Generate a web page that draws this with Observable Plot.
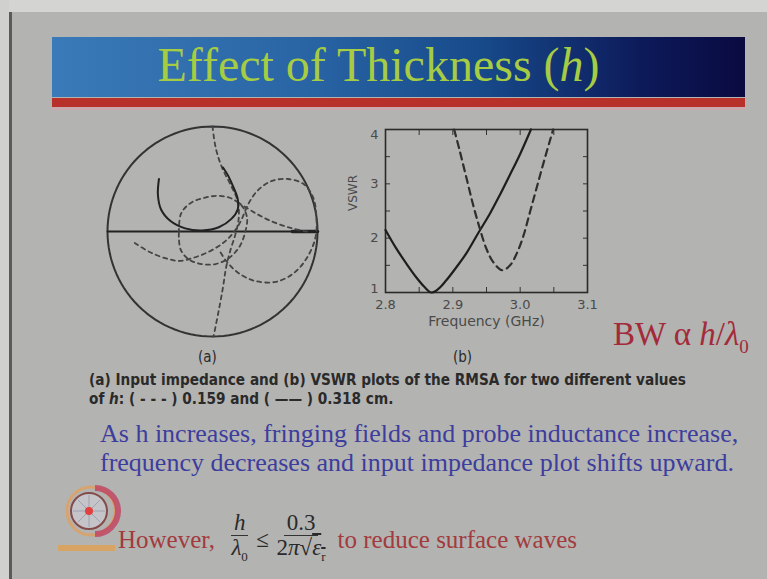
<!DOCTYPE html>
<html><head><meta charset="utf-8">
<script src="https://cdn.jsdelivr.net/npm/d3@7"></script>
<script src="https://cdn.jsdelivr.net/npm/@observablehq/plot@0.6"></script>
<style>
html,body{margin:0;padding:0;}
body{width:767px;height:579px;position:relative;overflow:hidden;background:#b3b3b1;font-family:"Liberation Serif",serif;}
.abs{position:absolute;}
#topband{left:0;top:0;width:767px;height:12px;background:#d4d4d2;}
#leftband{left:0;top:0;width:9px;height:579px;background:#d0d0ce;}
#leftline{left:9px;top:12px;width:3px;height:567px;background:#5a5a5a;}
#titlebar{left:52px;top:37px;width:693px;height:60px;background:linear-gradient(90deg,#3a7ab8 0%,#2a66a6 35%,#174a8a 62%,#0d1a5a 85%,#0a0a40 100%);}
#redbar{left:52px;top:98px;width:693px;height:9px;background:#b8302a;}
#pinkbar{left:52px;top:107px;width:693px;height:3px;background:#c9a9ad;}
#title{left:32px;top:35px;width:693px;height:60px;line-height:60px;text-align:center;color:#a6cc44;font-size:48px;}
.cap{font-family:"Liberation Sans Narrow","DejaVu Sans Condensed",sans-serif;color:#2a2a2a;font-weight:bold;font-size:15.2px;white-space:nowrap;}
.blue{color:#3d3d9e;font-size:26px;white-space:nowrap;}
.red{color:#a23a3e;white-space:nowrap;}
.frac{display:inline-flex;flex-direction:column;align-items:center;vertical-align:middle;}
.frac .n{border-bottom:1.5px solid #333;padding:0 3px;line-height:24px;}
.frac .d{line-height:24px;}
</style></head>
<body>
<div id="topband" class="abs"></div>
<div id="leftband" class="abs"></div>
<div id="leftline" class="abs"></div>
<div id="titlebar" class="abs"></div>
<div id="redbar" class="abs"></div>
<div id="pinkbar" class="abs"></div>
<div id="title" class="abs">Effect of Thickness (<i>h</i>)</div>

<div id="smith" class="abs" style="left:104px;top:123px;"></div>
<div id="vswr" class="abs" style="left:340px;top:121px;"></div>

<div class="abs cap" style="left:198px;top:348px;font-weight:normal;font-size:15px;">(a)</div>
<div class="abs cap" style="left:453px;top:348px;font-weight:normal;font-size:15px;">(b)</div>
<div class="abs red" style="left:613px;top:316px;font-size:33px;color:#a32a3a;">BW α <i>h</i>/<i>λ</i><sub style="font-size:19px">0</sub></div>

<div class="abs cap" style="left:89px;top:371px;">(a) Input impedance and (b) VSWR plots of the RMSA for two different values</div>
<div class="abs cap" style="left:89px;top:390px;">of <i>h</i>: ( - - - ) 0.159 and ( —— ) 0.318 cm.</div>

<div class="abs blue" style="left:100px;top:419px;">As h increases, fringing fields and probe inductance increase,</div>
<div class="abs blue" style="left:100px;top:448px;">frequency decreases and input impedance plot shifts upward.</div>

<svg class="abs" style="left:50px;top:480px;" width="72" height="74" viewBox="0 0 72 74">
  <circle cx="41" cy="31" r="24" fill="none" stroke="#e0a060" stroke-width="3" opacity="0.8"/>
  <path d="M45 8 A23 23 0 0 1 45 54" fill="none" stroke="#c04060" stroke-width="6" opacity="0.8"/>
  <circle cx="39" cy="31" r="18" fill="#c8c8cc" stroke="#804040" stroke-width="2" opacity="0.9"/>
  <path d="M39 15 L39 47 M23 31 L55 31 M28 20 L50 42 M50 20 L28 42" stroke="#a0a0b0" stroke-width="1"/>
  <circle cx="39" cy="31" r="4" fill="#e04040"/>
  <rect x="8" y="65" width="57" height="6" fill="#e0a050" opacity="0.8"/>
</svg>

<div class="abs" style="left:118px;top:511px;display:flex;align-items:center;white-space:nowrap;">
  <span class="red" style="font-size:25px;">However,</span>
  <span style="font-size:23px;color:#2a2a2a;margin-left:16px;">
    <span class="frac"><span class="n"><i>h</i></span><span class="d"><i>λ</i><sub style="font-size:13px">0</sub></span></span>
    <span style="vertical-align:middle;margin:0 2px;">≤</span>
    <span class="frac"><span class="n">0.3</span><span class="d">2<i>π</i>√<span style="text-decoration:overline"><i>ε</i><sub style="font-size:13px">r</sub></span></span></span>
  </span>
  <span class="red" style="font-size:25px;margin-left:12px;">to reduce surface waves</span>
</div>

<script>
// ---------- VSWR data (b) ----------
const freqSolid = [2.800, 2.815, 2.830, 2.845, 2.858, 2.868, 2.878, 2.890, 2.905, 2.920, 2.938, 2.955, 2.970, 2.985, 3.000, 3.016];
const vswrSolid = [2.15, 1.83, 1.55, 1.29, 1.10, 1.00, 1.06, 1.22, 1.46, 1.72, 2.10, 2.45, 2.80, 3.17, 3.55, 4.00];
const freqDashed = [2.902, 2.910, 2.920, 2.930, 2.940, 2.950, 2.960, 2.973, 2.985, 2.995, 3.005, 3.015, 3.025, 3.035, 3.049];
const vswrDashed = [4.00, 3.62, 3.12, 2.62, 2.18, 1.80, 1.56, 1.41, 1.50, 1.72, 2.05, 2.50, 2.95, 3.40, 4.00];
const freqTickLabels = [2.8, 2.9, 3.0, 3.1];
const freqMinorTicks = [2.85, 2.9, 2.95, 3.0, 3.05];
const vswrTickLabelsMid = [2, 3];
const vswrTickLabelTop = [4];
const vswrTickLabelBottom = [1];
const vswrMinorTicks = [1.5, 2, 2.5, 3, 3.5];

// ---------- Smith chart loci (a), reflection-coefficient plane (u, v) ----------
const smithSolidU = [-0.51,-0.52,-0.49,-0.40,-0.26,-0.10,0.06,0.18,0.24,0.24,0.20,0.15,0.10];
const smithSolidV = [0.50,0.35,0.21,0.10,0.03,0.01,0.04,0.12,0.21,0.31,0.42,0.53,0.61];
const smithDashAU = [0.00,0.03,0.09,0.18,0.24,0.25,0.22,0.17,0.13,0.10,0.06,0.01];
const smithDashAV = [1.00,0.80,0.61,0.43,0.29,0.13,-0.02,-0.18,-0.34,-0.53,-0.75,-1.00];
const smithDashBU = [-0.32,-0.30,-0.21,-0.08,0.06,0.19,0.29,0.33,0.31,0.26,0.16,0.03,-0.10,-0.22,-0.30,-0.32,-0.32];
const smithDashBV = [-0.01,0.17,0.27,0.32,0.34,0.31,0.23,0.12,-0.01,-0.14,-0.25,-0.31,-0.31,-0.27,-0.18,-0.07,-0.01];
const smithDashCU = [-0.74,-0.59,-0.43,-0.31,-0.18,-0.03,0.10,0.20,0.27,0.34,0.43,0.56,0.72,0.87,0.96,0.99,0.98,0.90,0.77,0.60,0.40,0.24,0.13,0.06];
const smithDashCV = [-0.11,-0.20,-0.26,-0.28,-0.25,-0.19,-0.11,-0.01,0.10,0.26,0.39,0.48,0.50,0.45,0.32,0.13,-0.06,-0.25,-0.40,-0.48,-0.47,-0.39,-0.28,-0.17];
const smithDashDU = [0.24,0.40,0.58,0.76,0.90];
const smithDashDV = [0.28,0.18,0.09,0.03,0.00];
const smithAxisU = [-1, 1];
const smithThickU = [0.76, 1];

// ---------- build tables ----------
const zip = (xs, ys, extra = {}) => xs.map((x, i) => ({x, y: ys[i], ...extra}));
const solid = zip(freqSolid, vswrSolid);
const dashed = zip(freqDashed, vswrDashed);

const yLabel = {anchor: "left", tickSize: 0, tickPadding: 7, tickFormat: d => String(d), fontSize: 13};
const vswrPlot = Plot.plot({
  width: 265, height: 215,
  marginLeft: 45, marginRight: 18, marginTop: 8, marginBottom: 44,
  x: {domain: [2.8, 3.1], label: null},
  y: {domain: [1, 4], label: null},
  style: {background: "transparent", fontFamily: "DejaVu Sans, sans-serif", fontSize: "12px", color: "#4a4a4a", overflow: "visible"},
  marks: [
    Plot.axisX(freqTickLabels, {anchor: "bottom", tickSize: 0, tickPadding: 7, tickFormat: d => d.toFixed(1), fontSize: 13}),
    Plot.axisX(freqMinorTicks, {anchor: "bottom", tickSize: -5, tickFormat: () => "", stroke: "#333"}),
    Plot.axisX(freqMinorTicks, {anchor: "top", tickSize: -5, tickFormat: () => "", stroke: "#333"}),
    Plot.axisY(vswrTickLabelsMid, {...yLabel}),
    Plot.axisY(vswrTickLabelTop, {...yLabel, dy: 5}),
    Plot.axisY(vswrTickLabelBottom, {...yLabel, dy: -4}),
    Plot.axisY(vswrMinorTicks, {anchor: "left", tickSize: -5, tickFormat: () => "", stroke: "#333"}),
    Plot.axisY(vswrMinorTicks, {anchor: "right", tickSize: -5, tickFormat: () => "", stroke: "#333"}),
    Plot.frame({stroke: "#2a2a2a", strokeWidth: 1.6}),
    Plot.line(solid, {x: "x", y: "y", curve: "catmull-rom", stroke: "#1e1e1e", strokeWidth: 2.2}),
    Plot.line(dashed, {x: "x", y: "y", curve: "catmull-rom", stroke: "#2e2e2e", strokeWidth: 2.2, strokeDasharray: "7,5"}),
    Plot.text(["Frequency (GHz)"], {frameAnchor: "bottom", dy: 33, fontSize: 14, fill: "#4a4a4a"}),
    Plot.text(["VSWR"], {frameAnchor: "left", dx: -32, rotate: -90, fontSize: 12, fill: "#4a4a4a"})
  ]
});
document.getElementById("vswr").appendChild(vswrPlot);

// Smith chart outer boundary (unit circle geometry)
const unitCircle = d3.range(0, 361, 3).map(a => ({x: Math.cos(a * Math.PI / 180), y: Math.sin(a * Math.PI / 180)}));
const smithSolid = zip(smithSolidU, smithSolidV);
const smithDashed = [
  ...zip(smithDashAU, smithDashAV, {s: "A"}),
  ...zip(smithDashBU, smithDashBV, {s: "B"}),
  ...zip(smithDashCU, smithDashCV, {s: "C"}),
  ...zip(smithDashDU, smithDashDV, {s: "D"})
];
const smithPlot = Plot.plot({
  width: 216, height: 216, margin: 3,
  x: {domain: [-1, 1], axis: null},
  y: {domain: [-1, 1], axis: null},
  style: {background: "transparent", overflow: "visible"},
  marks: [
    Plot.line(unitCircle, {x: "x", y: "y", stroke: "#333", strokeWidth: 2}),
    Plot.line(smithAxisU.map(u => ({x: u, y: 0})), {x: "x", y: "y", stroke: "#222", strokeWidth: 1.8}),
    Plot.line(smithThickU.map(u => ({x: u, y: 0})), {x: "x", y: "y", stroke: "#222", strokeWidth: 3.5}),
    Plot.line(smithDashed, {x: "x", y: "y", z: "s", curve: "catmull-rom", stroke: "#444", strokeWidth: 1.8, strokeDasharray: "4,4"}),
    Plot.line(smithSolid, {x: "x", y: "y", curve: "catmull-rom", stroke: "#222", strokeWidth: 2})
  ]
});
document.getElementById("smith").appendChild(smithPlot);
</script>
</body></html>
